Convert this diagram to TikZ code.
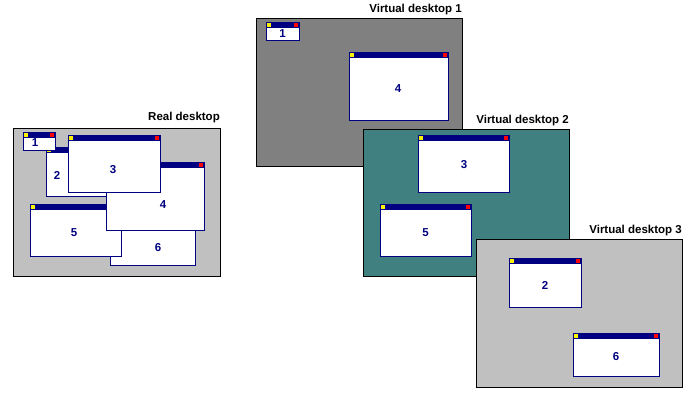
\documentclass[tikz,border=0pt]{standalone}
\usepackage{fontspec}
\setmainfont{Liberation Sans}
\usetikzlibrary{positioning}

\definecolor{winblue}{HTML}{000080}
\definecolor{deskgray}{HTML}{808080}
\definecolor{desksilver}{HTML}{C0C0C0}
\definecolor{deskteal}{HTML}{408080}

% window frame: name, x1, y1, x2, y2
\newcommand{\appwin}[5]{%
  \node[win, minimum width=#4pt-#2pt, minimum height=#5pt-#3pt] (#1) at ({(#2+#4)/2},{(#3+#5)/2}) {};
  \fill[winblue] (#1.north west) rectangle ([yshift=-6pt]#1.north east);
  \fill[yellow] ([xshift=1pt,yshift=-0.7pt]#1.north west) rectangle ++(4.2,4.2);
  \fill[red] ([xshift=-1pt,yshift=-0.7pt]#1.north east) rectangle ++(-4.2,4.2);
  \draw[winblue, line width=1pt] (#1.north west) rectangle (#1.south east);
}

\begin{document}
\begin{tikzpicture}[x=1pt, y=-1pt,
    desk/.style={draw=black, line width=1pt, inner sep=0, outer sep=0, anchor=north west},
    win/.style={draw=winblue, fill=white, line width=1pt, inner sep=0, outer sep=0},
    winnum/.style={text=winblue, font=\fontsize{11.5}{12}\selectfont\bfseries, inner sep=0},
    desklabel/.style={font=\fontsize{11.5}{13}\selectfont\bfseries, inner sep=0}]

    \useasboundingbox (0,0) rectangle (700,400);

    % Real desktop
    \node[desk, fill=desksilver, minimum width=207pt, minimum height=148pt] (real) at (13,128) {};
    \node[desklabel, above=8pt of real.north east, anchor=base east] (reallbl) {Real desktop};

    \appwin{w6r}{110}{222}{195}{265}
    \node[winnum] (n6r) at (158,248) {6};
    \appwin{w5r}{30}{204}{121}{256}
    \node[winnum] (n5r) at (74,233) {5};
    \appwin{w2r}{46}{147}{118}{196}
    \node[winnum] (n2r) at (57,175) {2};
    \appwin{w4r}{106}{162}{204}{230}
    \node[winnum] (n4r) at (163,205) {4};
    \appwin{w3r}{68}{135}{160}{192}
    \node[winnum] (n3r) at (113,170) {3};
    \appwin{w1r}{23}{132}{55}{150}
    \node[winnum] (n1r) at (35,143) {1};

    % Virtual desktop 1
    \node[desk, fill=deskgray, minimum width=206pt, minimum height=148pt] (vd1) at (256,18) {};
    \node[desklabel, above=6pt of vd1.north east, anchor=base east] (vd1lbl) {Virtual desktop 1};
    \appwin{w1a}{266}{22}{299}{40}
    \node[winnum] (n1a) at (282.5,34) {1};
    \appwin{w4a}{349}{52}{448}{120}
    \node[winnum] (n4a) at (398,89) {4};

    % Virtual desktop 2
    \node[desk, fill=deskteal, minimum width=206pt, minimum height=147pt] (vd2) at (363,129) {};
    \node[desklabel, above=6pt of vd2.north east, anchor=base east] (vd2lbl) {Virtual desktop 2};
    \appwin{w3b}{418}{135}{509}{192}
    \node[winnum] (n3b) at (464,165) {3};
    \appwin{w5b}{380}{204}{471}{256}
    \node[winnum] (n5b) at (425.5,233) {5};

    % Virtual desktop 3
    \node[desk, fill=desksilver, minimum width=206pt, minimum height=148pt] (vd3) at (476,239) {};
    \node[desklabel, above=6pt of vd3.north east, anchor=base east] (vd3lbl) {Virtual desktop 3};
    \appwin{w2c}{509}{258}{581}{307}
    \node[winnum] (n2c) at (545,285) {2};
    \appwin{w6c}{573}{333}{659}{376}
    \node[winnum] (n6c) at (616,357) {6};

\end{tikzpicture}
\end{document}
